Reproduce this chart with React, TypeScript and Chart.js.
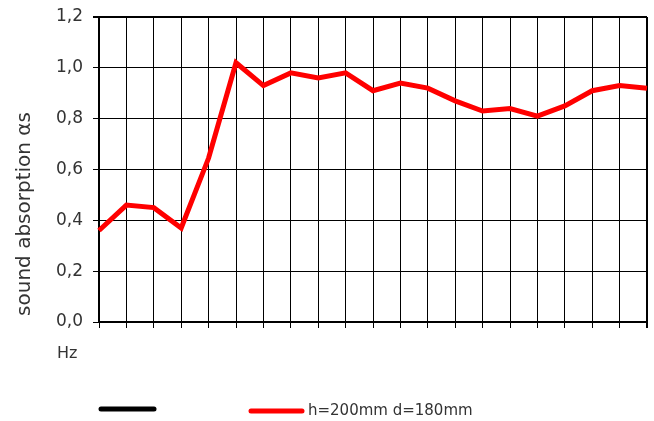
import React, { useEffect, useRef } from "react";
import { Chart, registerables } from "chart.js";

Chart.register(...registerables);

const categories = ["50", "63", "80", "100", "125", "160", "200", "250", "315", "400", "500", "630", "800", "1000", "1250", "1600", "2000", "2500", "3150", "4000", "5000"];
const absorption = [0.36, 0.46, 0.45, 0.37, 0.645, 1.02, 0.93, 0.98, 0.96, 0.98, 0.91, 0.94, 0.92, 0.87, 0.83, 0.84, 0.81, 0.85, 0.91, 0.93, 0.92];
const seriesLabel = "h=200mm d=180mm";
const yTitle = "sound absorption αs";
const xUnit = "Hz";

const FONT = "'DejaVu Sans', sans-serif";
const TEXT = "#333333";

const extras = {
  id: "extras",
  afterDraw(chart: any) {
    const ctx = chart.ctx;
    const area = chart.chartArea;
    ctx.save();
    ctx.save();
    ctx.translate(25, 214);
    ctx.rotate(-Math.PI / 2);
    ctx.fillStyle = TEXT;
    ctx.font = `20px ${FONT}`;
    ctx.textAlign = "center";
    ctx.textBaseline = "middle";
    ctx.fillText(yTitle, 0, 0);
    ctx.restore();
    ctx.fillStyle = TEXT;
    ctx.font = `16px ${FONT}`;
    ctx.textBaseline = "middle";
    ctx.textAlign = "left";
    ctx.fillText(xUnit, 57, 354);
    ctx.lineCap = "round";
    ctx.lineWidth = 5;
    ctx.strokeStyle = "#000000";
    ctx.beginPath();
    ctx.moveTo(area.left + 2, 409);
    ctx.lineTo(154, 409);
    ctx.stroke();
    ctx.strokeStyle = "#ff0000";
    ctx.beginPath();
    ctx.moveTo(251, 411);
    ctx.lineTo(302, 411);
    ctx.stroke();
    ctx.fillStyle = TEXT;
    ctx.font = `15px ${FONT}`;
    ctx.fillText(seriesLabel, 308, 411);
    ctx.restore();
  },
};

export default function App() {
  const ref = useRef<HTMLCanvasElement>(null);
  useEffect(() => {
    if (!ref.current) return;
    const n = categories.length;
    const chart = new Chart(ref.current, {
      type: "line",
      data: {
        labels: categories,
        datasets: [
          {
            label: seriesLabel,
            data: absorption,
            borderColor: "#ff0000",
            borderWidth: 5,
            pointRadius: 0,
            tension: 0,
            fill: false,
          },
        ],
      },
      options: {
        animation: false,
        responsive: false,
        maintainAspectRatio: false,
        layout: { padding: { top: 17, right: 7, left: 0, bottom: 0 } },
        plugins: { legend: { display: false }, tooltip: { enabled: false } },
        scales: {
          x: {
            type: "category",
            offset: false,
            grid: {
              color: "#000000",
              lineWidth: (c: any) => (c.index === n - 1 ? 2 : 1),
              tickLength: 6,
              drawTicks: true,
            },
            border: { color: "#000000", width: 2 },
            ticks: { callback: () => "", autoSkip: false, maxRotation: 0 },
            afterFit: (s: any) => {
              s.height = 99;
            },
          },
          y: {
            min: 0,
            max: 1.2,
            grid: {
              color: "#000000",
              lineWidth: (c: any) => (c.tick && c.tick.value >= 1.19 ? 2 : 1),
              tickLength: 6,
            },
            border: { color: "#000000", width: 2 },
            ticks: {
              stepSize: 0.2,
              color: TEXT,
              font: { family: FONT, size: 17, lineHeight: 1 },
              padding: 10,
              callback: (v: any) => Number(v).toFixed(1).replace(".", ","),
            },
            afterFit: (s: any) => {
              s.width = 99;
              s.paddingTop = 0;
              s.paddingBottom = 0;
            },
          },
        },
      },
      plugins: [extras],
    });
    return () => chart.destroy();
  }, []);
  return (
    <div style={{ position: "fixed", left: 0, top: 0, width: 654, height: 421, background: "#fff" }}>
      <canvas ref={ref} width={654} height={421} style={{ width: 654, height: 421 }} />
    </div>
  );
}
